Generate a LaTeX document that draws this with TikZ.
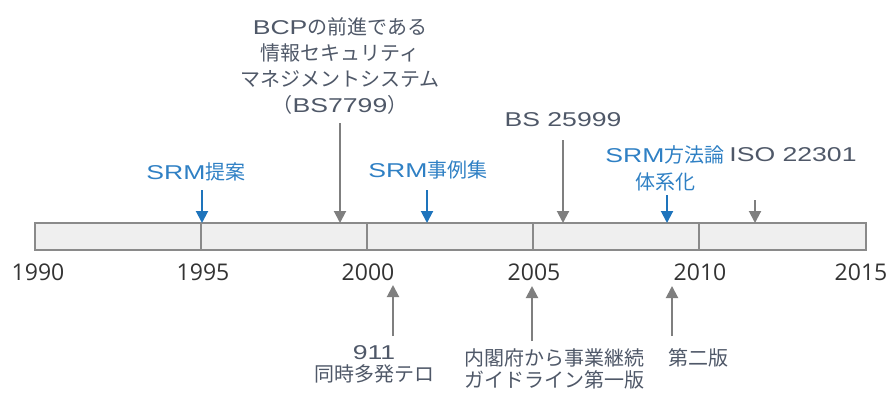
\documentclass[tikz,border=0pt]{standalone}
\usepackage{fontspec}
\newfontfamily\jp{Noto Sans CJK JP}
\newfontfamily\latf[FakeStretch=1.33]{Liberation Sans}
\newfontfamily\yr{Open Sans}
\newcommand{\lt}[1]{{\latf #1}}
\usetikzlibrary{arrows.meta}
\definecolor{barfill}{HTML}{EFEFEF}
\definecolor{barline}{HTML}{8A8A8A}
\definecolor{arrgray}{HTML}{7F7F7F}
\definecolor{txtgray}{HTML}{4F5868}
\definecolor{blue}{HTML}{2F80C4}
\definecolor{arrblue}{HTML}{1E74BC}
\definecolor{yrcol}{HTML}{333333}
\tikzset{
  lbl/.style={inner sep=0pt, align=center, text=txtgray, font=\jp\fontsize{20}{26}\selectfont},
  blbl/.style={lbl, text=blue},
  yrlbl/.style={inner sep=0pt, text=yrcol, font=\yr\fontsize{23}{26}\selectfont},
  garr/.style={draw=arrgray, line width=2pt, -{Triangle[width=12pt,length=12pt]}, color=arrgray},
  barr/.style={draw=arrblue, line width=2pt, -{Triangle[width=12pt,length=12pt]}, color=arrblue},
  barbox/.style={draw=barline, fill=barfill, line width=1.5pt},
  divider/.style={draw=barline, line width=1.5pt}
}
\begin{document}
\begin{tikzpicture}[x=1pt,y=-1pt]
\path[use as bounding box] (0,0) rectangle (890,394);
% bar
\node[barbox, minimum width=831pt, minimum height=27pt, inner sep=0pt] (bar) at (450.5,236.5) {};
\foreach \xx/\nm in {201/d95,367/d00,533/d05,699/d10}{
  \coordinate (\nm t) at (\xx,223);
  \coordinate (\nm b) at (\xx,250);
  \draw[divider] (\nm t) -- (\nm b);
}
% years
\node[yrlbl] (y1990) at (38,272) {1990};
\node[yrlbl] (y1995) at (203,272) {1995};
\node[yrlbl] (y2000) at (368,272) {2000};
\node[yrlbl] (y2005) at (534,272) {2005};
\node[yrlbl] (y2010) at (700,272) {2010};
\node[yrlbl] (y2015) at (861,272) {2015};
% top labels
\node[blbl] (srm1) at (196,172) {\lt{SRM}提案};
\node[lbl] (bcp) at (340,66) {\lt{BCP}の前進である\\情報セキュリティ\\マネジメントシステム\\（\lt{BS7799}）};
\node[blbl] (srm2) at (428,170) {\lt{SRM}事例集};
\node[lbl] (bs) at (563,120) {\lt{BS 25999}};
\node[blbl, font=\jp\fontsize{20}{27}\selectfont] (srm3) at (665,168) {\lt{SRM}方法論\\体系化};
\node[lbl] (iso) at (793,155) {\lt{ISO 22301}};
% bottom labels
\node[lbl, font=\jp\fontsize{20}{22}\selectfont] (t911) at (374,364) {\lt{911}\\同時多発テロ};
\node[lbl, font=\jp\fontsize{20}{22}\selectfont] (naikaku) at (554,369) {内閣府から事業継続\\ガイドライン第一版};
\node[lbl] (dai2) at (698,358) {第二版};
% arrow coordinates
\coordinate (a1s) at (202,190); \coordinate (a1e) at (202,223);
\coordinate (a2s) at (340,123); \coordinate (a2e) at (340,223);
\coordinate (a3s) at (427,190); \coordinate (a3e) at (427,223);
\coordinate (a4s) at (563,140); \coordinate (a4e) at (563,223);
\coordinate (a5s) at (667,195); \coordinate (a5e) at (667,223);
\coordinate (a6s) at (755,200); \coordinate (a6e) at (755,223);
\coordinate (b1s) at (393,336); \coordinate (b1e) at (393,285);
\coordinate (b2s) at (532,341); \coordinate (b2e) at (532,286);
\coordinate (b3s) at (672,336); \coordinate (b3e) at (672,286);
\draw[barr] (a1s) -- (a1e);
\draw[garr] (a2s) -- (a2e);
\draw[barr] (a3s) -- (a3e);
\draw[garr] (a4s) -- (a4e);
\draw[barr] (a5s) -- (a5e);
\draw[garr] (a6s) -- (a6e);
\draw[garr] (b1s) -- (b1e);
\draw[garr] (b2s) -- (b2e);
\draw[garr] (b3s) -- (b3e);
\end{tikzpicture}
\end{document}
